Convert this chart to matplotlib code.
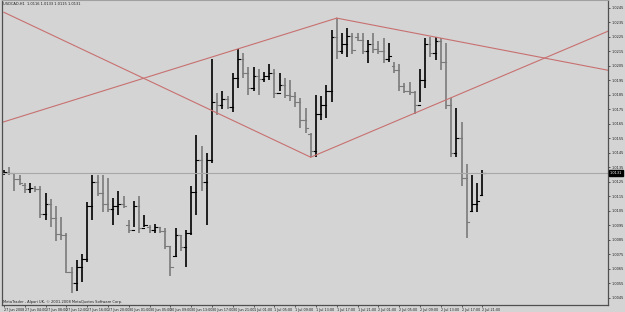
import matplotlib
matplotlib.use("Agg")
import matplotlib.pyplot as plt

# USDCAD H1, 27 Jun - 2 Jul 2008 (bars)
opens = [1.0131, 1.0132, 1.0131, 1.0127, 1.0123, 1.0120, 1.0121, 1.0120, 1.0103, 1.0110,
         1.0100, 1.0089, 1.0088, 1.0063, 1.0055, 1.0066, 1.0072, 1.0108, 1.0125, 1.0117,
         1.0110, 1.0106, 1.0108, 1.0110, 1.0095, 1.0092, 1.0108, 1.0093, 1.0094, 1.0092,
         1.0094, 1.0091, 1.0081, 1.0074, 1.0088, 1.0080, 1.0090, 1.0118, 1.0140, 1.0125,
         1.0140, 1.0180, 1.0178, 1.0182, 1.0177, 1.0197, 1.0210, 1.0200, 1.0190, 1.0198,
         1.0196, 1.0198, 1.0200, 1.0186, 1.0192, 1.0185, 1.0184, 1.0180, 1.0168, 1.0158,
         1.0146, 1.0172, 1.0178, 1.0188, 1.0225, 1.0215, 1.0220, 1.0226, 1.0225, 1.0223,
         1.0215, 1.0220, 1.0217, 1.0215, 1.0210, 1.0205, 1.0202, 1.0191, 1.0188, 1.0187,
         1.0178, 1.0195, 1.0220, 1.0214, 1.0222, 1.0208, 1.0178, 1.0145, 1.0155, 1.0128,
         1.0105, 1.0110, 1.0116]
highs = [1.0133, 1.0135, 1.0131, 1.0130, 1.0124, 1.0124, 1.0122, 1.0122, 1.0117, 1.0113,
         1.0108, 1.0101, 1.0090, 1.0066, 1.0071, 1.0075, 1.0111, 1.0130, 1.0130, 1.0130,
         1.0128, 1.0114, 1.0119, 1.0115, 1.0099, 1.0112, 1.0115, 1.0102, 1.0095, 1.0096,
         1.0094, 1.0093, 1.0080, 1.0093, 1.0088, 1.0092, 1.0122, 1.0157, 1.0150, 1.0145,
         1.0210, 1.0186, 1.0188, 1.0184, 1.0200, 1.0217, 1.0214, 1.0204, 1.0204, 1.0203,
         1.0201, 1.0206, 1.0203, 1.0200, 1.0197, 1.0195, 1.0187, 1.0183, 1.0176, 1.0159,
         1.0185, 1.0184, 1.0192, 1.0230, 1.0238, 1.0228, 1.0231, 1.0228, 1.0228, 1.0228,
         1.0223, 1.0228, 1.0222, 1.0224, 1.0221, 1.0208, 1.0206, 1.0193, 1.0194, 1.0188,
         1.0203, 1.0224, 1.0225, 1.0225, 1.0224, 1.0221, 1.0183, 1.0176, 1.0166, 1.0137,
         1.0130, 1.0124, 1.0133]
lows = [1.0130, 1.0130, 1.0119, 1.0123, 1.0117, 1.0117, 1.0118, 1.0100, 1.0099, 1.0094,
        1.0084, 1.0085, 1.0062, 1.0048, 1.0050, 1.0056, 1.0070, 1.0099, 1.0115, 1.0104,
        1.0104, 1.0095, 1.0102, 1.0107, 1.0090, 1.0094, 1.0090, 1.0094, 1.0090, 1.0090,
        1.0090, 1.0079, 1.0060, 1.0073, 1.0077, 1.0066, 1.0088, 1.0102, 1.0119, 1.0095,
        1.0138, 1.0171, 1.0175, 1.0175, 1.0173, 1.0190, 1.0197, 1.0185, 1.0188, 1.0185,
        1.0194, 1.0195, 1.0183, 1.0188, 1.0183, 1.0181, 1.0177, 1.0162, 1.0159, 1.0142,
        1.0142, 1.0168, 1.0169, 1.0180, 1.0210, 1.0213, 1.0211, 1.0213, 1.0222, 1.0213,
        1.0207, 1.0214, 1.0213, 1.0207, 1.0208, 1.0200, 1.0188, 1.0186, 1.0185, 1.0172,
        1.0180, 1.0190, 1.0211, 1.0209, 1.0202, 1.0175, 1.0142, 1.0142, 1.0122, 1.0086,
        1.0104, 1.0104, 1.0115]
closes = [1.0132, 1.0131, 1.0127, 1.0124, 1.0120, 1.0121, 1.0120, 1.0103, 1.0110, 1.0100,
          1.0089, 1.0088, 1.0063, 1.0055, 1.0066, 1.0072, 1.0108, 1.0125, 1.0117, 1.0110,
          1.0106, 1.0108, 1.0110, 1.0108, 1.0092, 1.0108, 1.0093, 1.0095, 1.0092, 1.0094,
          1.0091, 1.0081, 1.0066, 1.0088, 1.0080, 1.0090, 1.0118, 1.0140, 1.0125, 1.0140,
          1.0180, 1.0178, 1.0182, 1.0177, 1.0197, 1.0210, 1.0200, 1.0190, 1.0198, 1.0196,
          1.0198, 1.0200, 1.0186, 1.0192, 1.0185, 1.0184, 1.0180, 1.0168, 1.0162, 1.0146,
          1.0172, 1.0178, 1.0188, 1.0225, 1.0215, 1.0220, 1.0226, 1.0216, 1.0223, 1.0215,
          1.0220, 1.0217, 1.0215, 1.0210, 1.0212, 1.0202, 1.0191, 1.0188, 1.0187, 1.0178,
          1.0195, 1.0220, 1.0214, 1.0222, 1.0208, 1.0178, 1.0145, 1.0155, 1.0128, 1.0097,
          1.0110, 1.0112, 1.0131]

time_labels = ["27 Jun 2008", "27 Jun 04:00", "27 Jun 08:00", "27 Jun 12:00", "27 Jun 16:00",
               "27 Jun 20:00", "30 Jun 01:00", "30 Jun 05:00", "30 Jun 09:00", "30 Jun 13:00",
               "30 Jun 17:00", "30 Jun 21:00", "1 Jul 01:00", "1 Jul 05:00", "1 Jul 09:00",
               "1 Jul 13:00", "1 Jul 17:00", "1 Jul 21:00", "2 Jul 01:00", "2 Jul 05:00",
               "2 Jul 09:00", "2 Jul 13:00", "2 Jul 17:00", "2 Jul 21:00"]
price_ticks = [1.0245, 1.0235, 1.0225, 1.0215, 1.0205, 1.0195, 1.0185, 1.0175, 1.0165,
               1.0155, 1.0145, 1.0135, 1.0125, 1.0115, 1.0105, 1.0095, 1.0085, 1.0075,
               1.0065, 1.0055, 1.0045]

# trend lines: (bar, price) end points
trend_lines = [
    ((0, 1.0242), (59, 1.0142)),
    ((-0.4, 1.0166), (64, 1.0238)),
    ((64, 1.0238), (116.2, 1.0202)),
    ((59, 1.0142), (116.2, 1.0229)),
]
last_price = 1.0131

bg = "#d4d4d4"
fig = plt.figure(figsize=(6.25, 3.12), dpi=100, facecolor=bg)
ax = fig.add_axes([0.003, 0.0224, 0.970, 0.9776], facecolor=bg)

for i in range(len(opens)):
    col = "black" if closes[i] >= opens[i] else "#7a7a7a"
    ax.plot([i, i], [lows[i], highs[i]], color=col, lw=1.2, solid_capstyle="butt")
    ax.plot([i - 0.45, i], [opens[i], opens[i]], color=col, lw=0.8)
    ax.plot([i, i + 0.45], [closes[i], closes[i]], color=col, lw=0.8)

for (x0, y0), (x1, y1) in trend_lines:
    ax.plot([x0, x1], [y0, y1], color="#c87070", lw=0.8)

ax.axhline(last_price, color="#a8a8a8", lw=0.8)

ax.set_xlim(-0.4, 116.2)
ax.set_ylim(1.0040, 1.02505)

ax.yaxis.tick_right()
ax.set_yticks(price_ticks)
ax.set_yticklabels([f"{p:.4f}" for p in price_ticks], fontsize=2.5, color="#202020")
ax.tick_params(axis="y", length=1.5, width=0.5, pad=1.0, color="#202020")

ax.set_xticks([k * 4 for k in range(len(time_labels))])
ax.set_xticklabels(time_labels, fontsize=2.4, color="#202020", ha="left")
ax.tick_params(axis="x", length=1.5, width=0.5, pad=0.8, color="#202020")

for s in ["left", "bottom", "right"]:
    ax.spines[s].set_color("#505050")
    ax.spines[s].set_linewidth(0.9)
ax.spines["top"].set_color("#a0a0a0")

ax.text(1.003, last_price, f"{last_price:.4f}", transform=ax.get_yaxis_transform(),
        fontsize=2.5, color="white", va="center", ha="left",
        bbox=dict(boxstyle="square,pad=0.2", fc="black", ec="black"))

ax.text(0.002, 0.995, "USDCAD,H1  1.0116 1.0133 1.0115 1.0131", transform=ax.transAxes,
        fontsize=2.6, color="#202020", va="top", ha="left")
ax.text(0.002, 0.003, "MetaTrader - Alpari UK, \u00a9 2001-2008 MetaQuotes Software Corp.",
        transform=ax.transAxes, fontsize=2.6, color="#202020", va="bottom", ha="left")

fig.savefig("out.png", dpi=100, facecolor=bg)
